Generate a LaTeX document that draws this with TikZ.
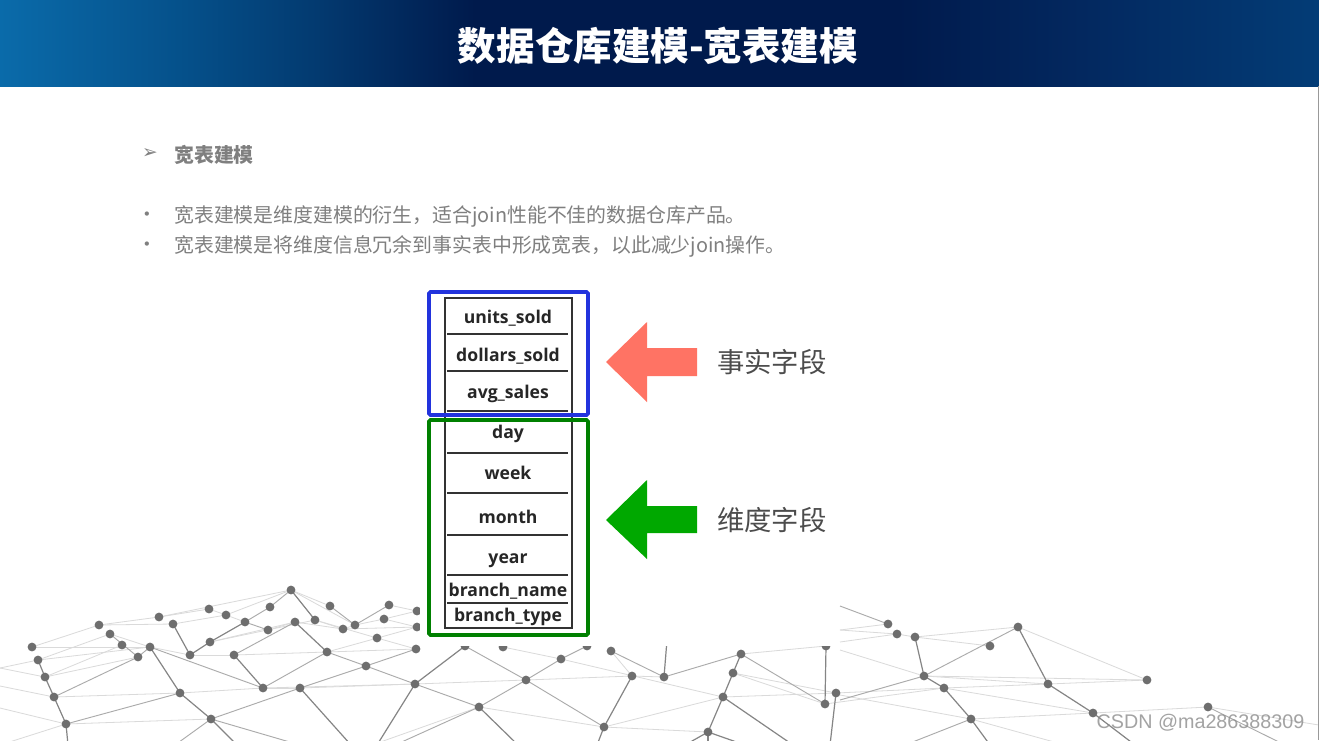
\documentclass[tikz,border=0pt]{standalone}
\usepackage{fontspec}
\setmainfont{Noto Sans CJK SC}
\newfontfamily\cjk{Noto Sans CJK SC}
\newfontfamily\tablefont{Open Sans}
\newfontfamily\wmfont{Liberation Sans}
\newfontfamily\symfont{DejaVu Sans}
\definecolor{txt}{HTML}{7F7F7F}
\definecolor{dotc}{HTML}{6E6E6E}
\definecolor{dk}{HTML}{858585}
\definecolor{md}{HTML}{ABABAB}
\definecolor{lt}{HTML}{DADADA}
\definecolor{hA}{HTML}{0A6BAA}
\definecolor{hA2}{HTML}{05508A}
\definecolor{hB}{HTML}{033A70}
\definecolor{hC}{HTML}{001A4C}
\definecolor{hD}{HTML}{03285F}
\definecolor{hE}{HTML}{033C76}
\pgfdeclarehorizontalshading{hdrshade}{100bp}{color(0bp)=(hA); color(25bp)=(hA); color(32bp)=(hA2); color(37bp)=(hB); color(43bp)=(hC); color(59bp)=(hC); color(66bp)=(hD); color(75bp)=(hE); color(100bp)=(hE)}
\tikzset{
  x=0.75pt,y=-0.75pt,
  dot/.style={circle,fill=dotc,draw=none,minimum size=6.6pt,inner sep=0pt,outer sep=0pt},
  dk/.style={draw=dk,line width=0.9pt},
  md/.style={draw=md,line width=0.7pt},
  lt/.style={draw=lt,line width=0.6pt},
  body/.style={anchor=west,inner sep=0pt,text=txt,font=\cjk\fontsize{14.9}{16}\selectfont},
  rowlabel/.style={anchor=base,inner sep=0pt,text=black!85,font=\tablefont\bfseries\fontsize{13.2}{16}\selectfont},
  rowline/.style={draw=black!80,line width=1.8pt},
  sidelabel/.style={anchor=west,inner sep=0pt,text=black!70,font=\cjk\fontsize{20.5}{24}\selectfont},
  bulletmark/.style={inner sep=0pt,text=txt,font=\symfont\fontsize{11}{14}\selectfont},
}
\begin{document}
\begin{tikzpicture}
\useasboundingbox (0,0) rectangle (1319,740);
\fill[white] (0,0) rectangle (1319,740);
\begin{scope}
\clip (0,0) rectangle (1319,740);
% network nodes
\foreach \n/\x/\y in {A/291/590,B/270/607,C/209/609,D/226/615,E/245/622,F/159/617,G/173/624,H/99/625,I/110/634,J/122/645,K/138/657,L/150/647,M/32/647,N/38/660,O/45/677,P/54/697,Q/66/724,R/180/693,S/211/719,T/263/688,U/300/688,V/190/655,W/210/642,X/234/655,Y/268/630,Z/295/622,AA/315/620,AB/330/606,AC/343/629,AD/355/625,AE/384/619,AF/389/605,AG/417/611,AH/417/627,AI/416/649,AJ/377/638,AK/327/652,AL/366/666,AM/415/684,AN/479/707,AO/526/680,AP/561/659,AQ/587/646,AR/611/651,AS/503/647,AT/465/646,AU/632/676,AV/664/677,AW/741/654,AX/733/673,AY/723/697,AZ/604/727,BA/708/732,BB/825/704,BC/836/693,BD/826/646,BE/888/624,BF/897/634,BG/915/637,BH/990/646,BI/1018/627,BJ/924/676,BK/944/688,BL/971/719,BM/1048/684,BN/1147/680,BO/1093/713,BP/1208/707}
  {\coordinate (\n) at (\x,\y);}
% free ends
\foreach \n/\x/\y in {a/68/745,b/237/745,c/175/745,d/300/745,e/351/745,f/377/745,g/0/745,h/0/708,i/0/686,j/0/668,k/0/732,l/518/745,m/395/745,n/372/745,o/597/745,p/667/640,q/708/745,r/745/745,s/685/745,t/793/745,u/830/745,v/840/606,w/840/630,x/840/642,y/840/700,z/840/650,aa/1135/745,ab/990/745,ac/905/745,ad/1065/745,ae/1325/726,af/1285/745,aj/840/695}
  {\coordinate (f\n) at (\x,\y);}
% light edges
\foreach \p/\q in {M/H,M/L,H/F,H/G,N/I,N/L,O/J,O/K,P/R,P/fi,O/fj,N/fj,Q/fh,Q/fg,Q/S,R/T,F/C,F/A,G/D,D/E,I/L,L/V,V/X,X/AK,W/Z,W/AA,C/D,A/D,A/AD,A/AB,AD/AE,AD/AC,AE/AG,AF/AG,AE/AH,AC/AH,Z/AC,AA/AC,AA/AJ,AJ/AI,AK/AI,AK/AH,T/U,T/AM,U/AM,AM/AO,Y/Z,AN/fn,AN/AZ,AZ/BA,AZ/AY,AP/AY,AS/AP,AU/AV,AO/AU,AR/AU,AY/BC,AX/BC,AX/BB,AW/BD,BC/BK,BB/BK,BG/BH,BG/BI,BF/BG,BF/fx,BF/fw,BE/fw,BJ/fz,BJ/BN,BI/BN,BM/BN,BK/BM,BK/BO,BL/BO,BL/fad,BL/faj,BO/BP,BP/fae,BJ/BM}
  {\path[lt] (\p) -- (\q);}
% medium edges
\foreach \p/\q in {I/K,K/L,K/P,L/T,R/Q,S/U,S/fc,S/fd,T/AK,AK/AL,AL/AM,U/AL,AL/AI,X/Z,A/B,B/E,E/Y,AB/AD,AD/AF,AO/AP,AP/AQ,AO/AN,AN/fm,AV/AR,AV/AW,AW/BB,AO/AZ,AN/AM,AT/AO,BJ/BI,BE/fv,BJ/fy,BL/fac,BP/faf}
  {\path[md] (\p) -- (\q);}
% dark edges
\foreach \p/\q in {N/O,O/P,P/Q,Q/fa,L/R,R/S,S/fb,G/V,V/W,W/E,X/T,AK/Z,A/AA,U/fe,AM/ff,AN/fl,AZ/AU,AZ/fo,AV/fp,AY/AX,AX/AW,AY/BA,BA/fq,BA/fr,BA/fs,AY/ft,BD/BB,BC/fu,BG/BJ,BI/BM,BM/BO,BO/faa,BJ/BK,BK/BL,BL/fab,AM/AT}
  {\path[dk] (\p) -- (\q);}
\foreach \n/\x/\y in {A/291/590,B/270/607,C/209/609,D/226/615,E/245/622,F/159/617,G/173/624,H/99/625,I/110/634,J/122/645,K/138/657,L/150/647,M/32/647,N/38/660,O/45/677,P/54/697,Q/66/724,R/180/693,S/211/719,T/263/688,U/300/688,V/190/655,W/210/642,X/234/655,Y/268/630,Z/295/622,AA/315/620,AB/330/606,AC/343/629,AD/355/625,AE/384/619,AF/389/605,AG/417/611,AH/417/627,AI/416/649,AJ/377/638,AK/327/652,AL/366/666,AM/415/684,AN/479/707,AO/526/680,AP/561/659,AQ/587/646,AR/611/651,AS/503/647,AT/465/646,AU/632/676,AV/664/677,AW/741/654,AX/733/673,AY/723/697,AZ/604/727,BA/708/732,BB/825/704,BC/836/693,BD/826/646,BE/888/624,BF/897/634,BG/915/637,BH/990/646,BI/1018/627,BJ/924/676,BK/944/688,BL/971/719,BM/1048/684,BN/1147/680,BO/1093/713,BP/1208/707}
  {\node[dot] (dot\n) at (\x,\y) {};}
\end{scope}
% white panel of the picture
\fill[white] (420,285) rectangle (839,646);
% header
\shade[shading=hdrshade] (0,0) rectangle (1319,86);
\node[inner sep=0pt,text=white,font=\cjk\bfseries\fontsize{28.9}{34}\selectfont] (title) at (658,46) {数据仓库建模-宽表建模};
% right edge
\draw[black!40,line width=0.75pt] (1318.5,86) -- (1318.5,740);
% text
\node[inner sep=0pt,text=txt,font=\symfont\fontsize{14}{14}\selectfont] (mark) at (150,154) {➢};
\node[body,font=\cjk\bfseries\fontsize{14.9}{16}\selectfont] (head) at (174,155) {宽表建模};
\node[bulletmark] (b1) at (147,216) {•};
\node[body] (l1) at (174,216) {宽表建模是维度建模的衍生，适合join性能不佳的数据仓库产品。};
\node[bulletmark] (b2) at (147,246) {•};
\node[body] (l2) at (174,246) {宽表建模是将维度信息冗余到事实表中形成宽表，以此减少join操作。};
% table
\draw[black!80,line width=1.9pt] (445,298) rectangle (572,628);
\foreach \y in {334,371,411,453,493,535,575,603}
  \draw[rowline] (447,\y) -- (568,\y);
\node[rowlabel] (r1) at (508,323) {units\_sold};
\node[rowlabel] (r2) at (508,361) {dollars\_sold};
\node[rowlabel] (r3) at (508,398) {avg\_sales};
\node[rowlabel] (r4) at (508,438) {day};
\node[rowlabel] (r5) at (508,479) {week};
\node[rowlabel] (r6) at (508,523) {month};
\node[rowlabel] (r7) at (508,563) {year};
\node[rowlabel] (r8) at (508,596) {branch\_name};
\node[rowlabel] (r9) at (508,621) {branch\_type};
% frames
\draw[draw={rgb,255:red,34;green,51;blue,221},line width=2.7pt,rounded corners=1pt] (429,292) rectangle (588,415);
\draw[draw={rgb,255:red,0;green,128;blue,0},line width=2.7pt,rounded corners=1pt] (429,420) rectangle (588,635);
% arrows
\fill[fill={rgb,255:red,255;green,115;blue,100}] (606,362) -- (647,322) -- (647,348) -- (697,348) -- (697,376) -- (647,376) -- (647,402) -- cycle;
\fill[fill={rgb,255:red,0;green,168;blue,0}] (606,520) -- (647,480) -- (647,506) -- (697,506) -- (697,533) -- (647,533) -- (647,559) -- cycle;
\node[sidelabel] (s1) at (717,362) {事实字段};
\node[sidelabel] (s2) at (717,520) {维度字段};
% watermark
\node[inner sep=0pt,text=black!45,opacity=0.8,font=\wmfont\fontsize{14.8}{16}\selectfont] (wm) at (1200.5,723) {CSDN @ma286388309};
\end{tikzpicture}
\end{document}
